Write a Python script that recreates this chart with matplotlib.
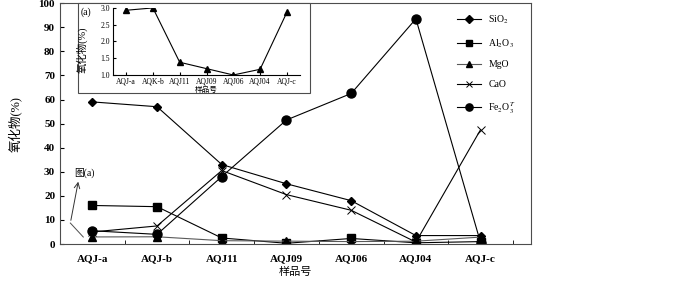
import numpy as np
import matplotlib
matplotlib.use("Agg")
import matplotlib.pyplot as plt
from matplotlib.patches import Rectangle

plt.rcParams['font.family'] = ['Liberation Serif', 'Noto Sans CJK SC']
plt.rcParams['mathtext.fontset'] = 'stix'

samples = ["AQJ-a", "AQJ-b", "AQJ11", "AQJ09", "AQJ06", "AQJ04", "AQJ-c"]
inset_labels = ["AQJ-a", "AQK-b", "AQJ11", "AQJ09", "AQJ06", "AQJ04", "AQJ-c"]
sio2 = [59, 57, 33, 25, 18, 3.5, 3.5]
al2o3 = [16, 15.5, 2.5, 0.3, 2.3, 0.5, 1.0]
mgo = [2.93, 3.0, 1.38, 1.19, 1.0, 1.17, 2.87]
cao = [5.0, 7.5, 30.5, 20.5, 14, 0.8, 47.5]
fe2o3 = [5.5, 4.0, 28, 51.5, 62.5, 93.5, 0.5]

x = np.arange(len(samples))
fig = plt.figure(figsize=(7, 2.83), dpi=100)
ax = fig.add_axes([0.0857, 0.1378, 0.673, 0.851])

lw = 0.8
ax.plot(x, sio2, c='k', lw=lw, marker='D', ms=4.5, label='SiO$_2$')
ax.plot(x, al2o3, c='k', lw=lw, marker='s', ms=6, label='Al$_2$O$_3$')
ax.plot(x, mgo, c='0.35', lw=lw, marker='^', ms=5.5, mfc='k', mec='k', label='MgO')
ax.plot(x, cao, c='k', lw=lw, marker='x', ms=6, mew=0.7, label='CaO')
ax.plot(x, fe2o3, c='k', lw=lw, marker='o', ms=6.5, label='Fe$_2$O$_3^T$')

ax.set_xlim(-0.5, 6.78)
ax.set_ylim(0, 100)
ax.set_yticks(np.arange(0, 101, 10))
ax.set_xticks(x)
ax.set_xticklabels(samples, fontweight='bold', fontsize=8)
ax.set_xticks(np.arange(0.5, 6.6, 1), minor=True)
ax.tick_params(axis='x', which='major', length=0, pad=7)
ax.tick_params(axis='x', which='minor', direction='in', length=3)
ax.tick_params(axis='y', direction='in', length=3, labelsize=8)
for lab in ax.get_yticklabels():
    lab.set_fontweight('bold')
for s in ax.spines.values():
    s.set_color('0.3')
    s.set_linewidth(0.8)
ax.set_ylabel('氧化物(%)', fontsize=9, labelpad=12)
ax.set_xlabel('样品号', fontsize=8, labelpad=3)

ax.legend(loc='upper right', bbox_to_anchor=(0.99, 1.0), frameon=False, fontsize=7,
          handlelength=2.4, labelspacing=1.1, borderpad=0.6, markerscale=0.8)

# annotation pointing to inset
ax.plot([-0.14, -0.34], [2.9, 8.7], c='0.3', lw=0.7)
ax.annotate('', xy=(-0.21, 27), xytext=(-0.34, 8.7),
            arrowprops=dict(arrowstyle='->', color='0.2', lw=0.7))
ax.text(-0.28, 29.5, '图(a)', fontsize=7, ha='left', va='center')

# inset
fig.patches.append(Rectangle((78 / 700, 0.671), 232 / 700, 0.318, transform=fig.transFigure,
                             facecolor='white', edgecolor='0.3', lw=0.8, zorder=3))
ins = fig.add_axes([0.161, 0.735, 0.268, 0.237], zorder=4)
ins.patch.set_alpha(0)
ins.plot(x, mgo, c='k', lw=lw, marker='^', ms=5)
ins.set_xlim(-0.5, 6.5)
ins.set_ylim(1.0, 3.0)
ins.set_yticks([1.0, 1.5, 2.0, 2.5, 3.0])
ins.set_xticks(x)
ins.set_xticklabels(inset_labels, fontsize=5.5)
ins.tick_params(axis='both', direction='in', length=2, labelsize=5.5, pad=2)
ins.spines['top'].set_visible(False)
ins.spines['right'].set_visible(False)
ins.set_ylabel('氧化物(%)', fontsize=7.5)
ins.yaxis.set_label_coords(-0.135, 0.38)
ins.set_xlabel('样品号', fontsize=5.5, labelpad=0)
ins.text(-0.17, 0.9, '(a)', transform=ins.transAxes, fontsize=7)

fig.savefig('out.png', dpi=100)
